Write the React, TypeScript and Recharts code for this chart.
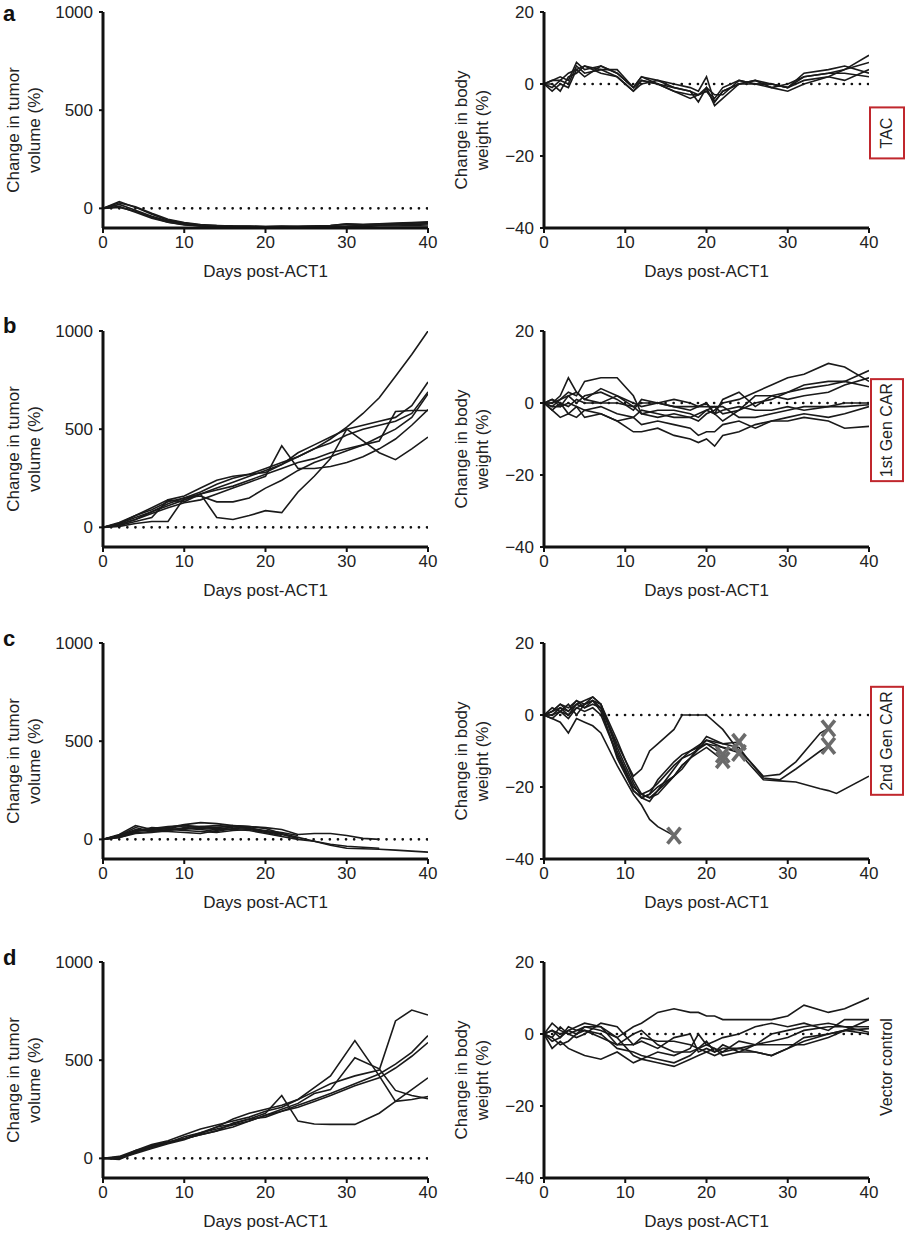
import React from 'react';
import { ComposedChart, Line, XAxis, YAxis, ReferenceLine, Scatter } from 'recharts';

const FONT = '"Liberation Sans", Arial, Helvetica, sans-serif';

// ---------- x grids (days post-ACT1) ----------
const TUMOR_DAYS = [0, 2, 4, 6, 8, 10, 12, 14, 16, 18, 20, 22, 24, 26, 28, 30, 32, 34, 36, 38, 40];
const D_TUMOR_DAYS = [0, 2, 4, 6, 8, 10, 12, 14, 16, 18, 20, 22, 24, 26, 28, 31, 34, 36, 38, 40];
const WEIGHT_DAYS = [0, 1, 2, 3, 4, 5, 7, 9, 11, 12, 14, 16, 18, 19, 20, 21, 22, 24, 26, 28, 30, 32, 35, 37, 40];
const C_WEIGHT_DAYS = [0, 1, 2, 3, 4, 5, 6, 7, 9, 11, 12, 13, 14, 16, 17, 18, 20, 22, 24, 25, 27, 29, 31, 34, 35, 36, 40];

// ---------- tick labels ----------
const DAY_TICKS = [0, 10, 20, 30, 40];
const TUMOR_TICKS = [0, 500, 1000];
const WEIGHT_TICKS = [-40, -20, 0, 20];

// ---------- a: TAC ----------
const A_T1 = [0, 35, 5, -30, -60, -75, -85, -88, -90, -90, -92, -90, -92, -90, -88, -78, -82, -80, -78, -75, -72];
const A_T2 = [0, 20, -10, -40, -65, -80, -88, -90, -92, -93, -94, -93, -92, -92, -90, -90, -88, -86, -84, -82, -80];
const A_T3 = [0, 10, -20, -50, -70, -85, -90, -92, -93, -94, -95, -94, -94, -93, -93, -92, -92, -90, -90, -88, -90];
const A_T4 = [0, 5, -15, -45, -70, -82, -89, -91, -93, -95, -95, -95, -95, -95, -95, -93, -88, -85, -82, -80, -78];
const A_T5 = [0, 28, 8, -25, -55, -72, -82, -87, -90, -91, -92, -92, -91, -90, -88, -80, -82, -78, -75, -72, -68];

const A_W1 = [0, -1, 1, 0, 5, 3, 4, 4, -1, 2, 1, 0, -1, -2, 2, -5, -2, 0, 1, 0, -1, 2, 3, 4, 8];
const A_W2 = [0, 1, 2, 1, 6, 4, 5, 3, -1, 1, 0, -1, -2, -3, -2, -4, -1, 1, 0, 0, -1, 1, 2, 4, 6];
const A_W3 = [0, 0, -2, 2, 3, 5, 3, 2, -2, 1, 0, -2, -3, -3, -2, -5, -2, 0, 1, -1, 0, 2, 3, 3, 2];
const A_W4 = [0, -2, 0, -1, 4, 2, 5, 3, -1, 2, 0, -2, -4, -3, -1, -3, -3, 1, 0, 0, -1, 3, 4, 5, 3];
const A_W5 = [0, 1, 1, 3, 4, 5, 4, 2, -2, 0, 1, -1, -2, -5, -1, -6, -4, 0, 0, -1, -2, 0, 2, 1, 4];

// ---------- b: 1st Gen CAR ----------
const B_T1 = [0, 20, 50, 80, 110, 140, 170, 200, 230, 260, 290, 320, 360, 400, 450, 510, 580, 660, 770, 880, 1000];
const B_T2 = [0, 15, 40, 70, 100, 125, 140, 170, 200, 230, 260, 415, 300, 300, 310, 330, 360, 400, 450, 520, 600];
const B_T3 = [0, 10, 30, 50, 140, 130, 170, 50, 40, 60, 85, 75, 180, 260, 350, 500, 440, 380, 345, 400, 460];
const B_T4 = [0, 20, 60, 100, 140, 160, 200, 240, 260, 270, 280, 320, 380, 420, 460, 500, 520, 540, 560, 620, 740];
const B_T5 = [0, 15, 40, 80, 120, 150, 180, 220, 250, 270, 300, 330, 360, 400, 430, 470, 500, 520, 540, 580, 690];
const B_T6 = [0, 5, 20, 30, 30, 150, 160, 130, 130, 150, 200, 240, 290, 330, 360, 390, 420, 460, 500, 560, 680];
const B_T7 = [0, 25, 60, 90, 130, 150, 170, 190, 210, 240, 270, 300, 330, 350, 380, 400, 420, 440, 590, 595, 595];

const B_W1 = [0, 1, -1, 2, 3, 1, 0, 2, -1, -3, -4, -3, -4, -5, -3, -2, 0, 1, 3, 5, 7, 8, 11, 10, 6];
const B_W2 = [0, -1, 1, 3, 2, 6, 7, 7, 2, -3, -2, -2, -3, -4, -2, -1, -3, -2, 0, 1, 3, 5, 6, 6, 9];
const B_W3 = [0, -2, -4, -3, -1, -4, -3, -5, -8, -8, -7, -9, -10, -11, -10, -12, -9, -8, -6, -5, -5, -4, -5, -7, -6.5];
const B_W4 = [0, -2, 0, -3, -4, -2, -3, -5, -4, -6, -5, -6, -7, -9, -8, -8, -6, -5, -7, -5, -4, -3, -4, -3, -1];
const B_W5 = [0, 0, 2, 7, 3, 1, 4, 2, 0, -1, 0, 1, 0, -1, 0, -3, 1, 3, -1, 2, 1, 2, 3, 5, 7];
const B_W6 = [0, 0, 1, 2, 0, 2, 3, 1, -2, 1, 0, -1, -2, -1, 0, -3, -5, -2, 2, 2, 3, 4, 5, 6, 4.5];
const B_W7 = [0, 1, 0, -1, 1, 0, 0, 0, -1, 0, 0, -1, -1, -1, -1, -1, -1, -4, -4, -3, -2, -1, -1, 0, 0];
const B_W8 = [0, -1, -1, 0, -1, -2, -1, -3, -4, -2, -3, -4, -4, -3, -2, -3, -2, -1, -2, -2, -1, -2, -1, -1, -0.5];

// ---------- c: 2nd Gen CAR ----------
const N = null;
const C_T1 = [0, 25, 70, 50, 60, 75, 85, 80, 70, 65, 60, 50, 25, 30, 30, 20, 5, 0, N, N, N];
const C_T2 = [0, 20, 50, 45, 55, 70, 65, 60, 70, 65, 55, 30, 10, -10, -30, -45, -48, -50, -55, -60, -65];
const C_T3 = [0, 15, 40, 50, 45, 55, 50, 40, 55, 60, 40, 25, 5, N, N, N, N, N, N, N, N];
const C_T4 = [0, 10, 35, 40, 50, 45, 40, 35, 45, 50, 35, 20, N, N, N, N, N, N, N, N, N];
const C_T5 = [0, 20, 60, 40, 40, 35, 30, 45, 65, 55, 40, 30, N, N, N, N, N, N, N, N, N];
const C_T6 = [0, 10, 30, 35, 45, 60, 55, 50, 50, 45, 30, 15, 0, -10, -25, -35, -40, -45, N, N, N];
const C_T7 = [0, 15, 45, 55, 65, 70, 60, 55, 60, N, N, N, N, N, N, N, N, N, N, N, N];
const C_T8 = [0, 20, 40, 60, 55, 50, 65, 70, 65, 55, 45, 35, 20, N, N, N, N, N, N, N, N];

const C_W1 = [0, 1, 2, 0, 3, 2, 4, 2, -8, -17, -15, -10, -8, -4, 0, 0, 0, -4, -10, -13, -18, -18.3, -18.6, -20.5, -21, -21.8, -17];
const C_W2 = [0, -1, -2, -5, -1, -2, -3, -5, -14, -22, -25, -29, -31, -33.5, N, N, N, N, N, N, N, N, N, N, N, N, N];
const C_W3 = [0, 2, 1, 3, 0, 3, 4, 3, -10, -20, -22, -21, -19, -14, -12, -11, -8, -11, N, N, N, N, N, N, N, N, N];
const C_W4 = [0, 1, 3, 1, 4, 2, 3, 2, -12, -21, -23, -22, -20, -17, -14, -12, -9, -12.5, N, N, N, N, N, N, N, N, N];
const C_W5 = [0, 0, 2, 1, 3, 4, 5, 3, -9, -19, -23, -22, -18, -13, -11, -10, -7, -8, -7.5, N, N, N, N, N, N, N, N];
const C_W6 = [0, -1, 1, -1, 2, 3, 4, 1, -11, -20, -22, -23, -21, -15, -12, -10, -8, -9, -10.5, N, N, N, N, N, N, N, N];
const C_W7 = [0, 1, 3, 2, 4, 3, 5, 3, -7, -18, -22, -23, -22, -17, -15, -12, -6, -8, -9, -12, -17, -16.5, -13, -5, -3.7, N, N];
const C_W8 = [0, 0, 1, 0, 2, 1, 2, 0, -11, -21, -23, -24, -21, -17, -14, -12, -7, -9, -10, -12, -17.5, -18, -15, -10, -8.6, N, N];

// death markers (X) in 2nd Gen CAR body weight
const X_DAYS = [16, 22, 22, 24, 24, 35, 35];
const X_VALS = [-33.5, -11, -12.5, -7.5, -10.5, -3.7, -8.6];

// ---------- d: Vector control ----------
const D_T1 = [0, -5, 30, 60, 80, 110, 130, 160, 200, 230, 250, 270, 300, 340, 380, 420, 450, 700, 755, 730];
const D_T2 = [0, 0, 40, 70, 90, 120, 150, 170, 190, 210, 240, 260, 300, 360, 420, 600, 420, 290, 300, 315];
const D_T3 = [0, 5, 35, 65, 85, 100, 120, 140, 160, 190, 220, 250, 280, 330, 350, 512, 456, 346, 320, 304];
const D_T4 = [0, 10, 40, 60, 80, 100, 120, 140, 180, 200, 230, 320, 190, 175, 173, 173, 230, 290, 350, 410];
const D_T5 = [0, 5, 30, 55, 80, 100, 130, 150, 170, 190, 220, 240, 270, 300, 330, 380, 430, 480, 540, 625];
const D_T6 = [0, 0, 25, 50, 75, 95, 125, 160, 175, 200, 210, 240, 260, 290, 320, 370, 410, 460, 520, 590];

const D_W1 = [0, -1, 2, 0, 1, 2, 1, -1, 2, 3, 6, 7, 6, 6, 5, 5, 4, 4, 4, 4, 5, 8, 6, 7, 10];
const D_W2 = [0, -4, -2, -4, -5, -6, -7, -5, -8, -7, -8, -9, -7, -6, -5, -4, -6, -5, -5, -6, -4, -2, 0, 1, 1.5];
const D_W3 = [0, 3, 1, 0, -1, 0, 3, 2, -3, -2, -4, -1, 0, -5, -4, -5, -3, -5, -3, -3, -3, -3, -1, 1, 4];
const D_W4 = [0, -2, -1, 1, 0, 2, 2, -1, -6, -7, -5, -6, -4, 0, -3, -4, -5, -2, -3, -2, -1, 1, 2, 2, 2];
const D_W5 = [0, 1, -1, 2, 1, 1, -1, -3, 0, 1, -3, -5, -5, -4, -2, -5, -4, -4, -3, 0, 1, 2, 3, 2, 0.5];
const D_W6 = [0, -1, -3, -2, 0, 1, 0, -4, -5, -6, -7, -8, -6, -4, -3, -2, -1, 0, 2, 3, 2, 3, 1, 4, 4];
const D_W7 = [0, 1, 0, 1, 2, 3, 2, -3, -3, -1, -2, -2, -3, -4, -5, -6, -5, -4, -5, -6, -4, -1, 0, 1, 0];

// ---------- labels ----------
const PANEL_LETTERS = ['a', 'b', 'c', 'd'];
const GROUP_LABELS = ['TAC', '1st Gen CAR', '2nd Gen CAR', 'Vector control'];
const GROUP_BOXED = [true, true, true, false];
const TUMOR_TITLE = ['Change in tumor', 'volume (%)'];
const WEIGHT_TITLE = ['Change in body', 'weight (%)'];
const X_TITLE = 'Days post-ACT1';

// ---------- layout ----------
const ROW_TOPS = [12, 331, 643, 962];
const LETTER_TOPS = [1, 313, 626, 945];
const SIDE_OFFSETS = [121, 99, 98, 105];
const SIDE_PAD = ['6px 9px', '5px 3px', '5px 3px', '0'];
const PLOT_H = 216;
const LEFT_X0 = 103;
const RIGHT_X0 = 544;
const PLOT_W = 325;
const Y_AXIS_W = 60;
const TOP_M = 10;
const RIGHT_M = 15;
const X_AXIS_H = 34;

function buildRows(days: number[], series: (number | null)[][]) {
  return days.map((d, i) => {
    const r: any = { day: d };
    series.forEach((s, j) => {
      r['s' + j] = s[i];
    });
    return r;
  });
}

const fmtTick = (v: number) => (v < 0 ? '\u2212' + Math.abs(v) : String(v));

const XShape = (p: any) => {
  const { cx, cy } = p;
  if (cx == null || cy == null) return null;
  const w = 6.5;
  const h = 8;
  return (
    <g stroke="#6b6b6b" strokeWidth={3.6}>
      <line x1={cx - w} y1={cy - h} x2={cx + w} y2={cy + h} />
      <line x1={cx - w} y1={cy + h} x2={cx + w} y2={cy - h} />
    </g>
  );
};

type PanelProps = {
  x0: number;
  top: number;
  days: number[];
  series: (number | null)[][];
  domain: [number, number];
  ticks: number[];
  marks?: { day: number; w: number }[];
};

function Panel({ x0, top, days, series, domain, ticks, marks }: PanelProps) {
  const rows = buildRows(days, series);
  const tickStyle = { fill: '#222', fontSize: 17, fontFamily: FONT };
  return (
    <div style={{ position: 'absolute', left: x0 - Y_AXIS_W, top: top - TOP_M }}>
      <ComposedChart
        width={Y_AXIS_W + PLOT_W + RIGHT_M}
        height={TOP_M + PLOT_H + X_AXIS_H}
        data={rows}
        margin={{ top: TOP_M, right: RIGHT_M, bottom: 0, left: 0 }}
      >
        <XAxis
          dataKey="day"
          type="number"
          domain={[0, 40]}
          ticks={DAY_TICKS}
          interval={0}
          height={X_AXIS_H}
          axisLine={{ stroke: '#111', strokeWidth: 3 }}
          tickLine={{ stroke: '#111', strokeWidth: 2 }}
          tickSize={5}
          tickMargin={3}
          tick={tickStyle}
          allowDataOverflow
        />
        <YAxis
          type="number"
          domain={domain}
          ticks={ticks}
          interval={0}
          width={Y_AXIS_W}
          axisLine={{ stroke: '#111', strokeWidth: 3 }}
          tickLine={{ stroke: '#111', strokeWidth: 2 }}
          tickSize={4}
          tickMargin={6}
          tick={tickStyle}
          tickFormatter={fmtTick}
          allowDataOverflow
        />
        <ReferenceLine
          y={0}
          stroke="#111"
          strokeWidth={2.6}
          strokeDasharray="0.1 8"
          strokeLinecap="round"
          ifOverflow="hidden"
        />
        {series.map((_, j) => (
          <Line
            key={j}
            dataKey={'s' + j}
            type="linear"
            stroke="#1a1a1a"
            strokeWidth={1.6}
            dot={false}
            activeDot={false}
            connectNulls={false}
            isAnimationActive={false}
          />
        ))}
        {marks ? (
          <Scatter data={marks} dataKey="w" shape={XShape} isAnimationActive={false} />
        ) : null}
      </ComposedChart>
    </div>
  );
}

function YTitle({ cx, cy, lines }: { cx: number; cy: number; lines: string[] }) {
  return (
    <div
      style={{
        position: 'absolute',
        left: cx,
        top: cy,
        transform: 'translate(-50%, -50%) rotate(-90deg)',
        whiteSpace: 'nowrap',
        textAlign: 'center',
        fontSize: 17,
        lineHeight: '21px',
        color: '#222',
        fontFamily: FONT,
      }}
    >
      {lines[0]}
      <br />
      {lines[1]}
    </div>
  );
}

function SideLabel({ cx, cy, text, boxed, pad }: { cx: number; cy: number; text: string; boxed: boolean; pad: string }) {
  return (
    <div
      style={{
        position: 'absolute',
        left: cx,
        top: cy,
        transform: 'translate(-50%, -50%) rotate(-90deg)',
        whiteSpace: 'nowrap',
        fontSize: 16,
        lineHeight: '20px',
        color: '#222',
        fontFamily: FONT,
        border: boxed ? '2px solid #c0272d' : 'none',
        padding: pad,
        background: '#fff',
      }}
    >
      {text}
    </div>
  );
}

const TUMOR_SETS = [
  { days: TUMOR_DAYS, series: [A_T1, A_T2, A_T3, A_T4, A_T5] },
  { days: TUMOR_DAYS, series: [B_T1, B_T2, B_T3, B_T4, B_T5, B_T6, B_T7] },
  { days: TUMOR_DAYS, series: [C_T1, C_T2, C_T3, C_T4, C_T5, C_T6, C_T7, C_T8] },
  { days: D_TUMOR_DAYS, series: [D_T1, D_T2, D_T3, D_T4, D_T5, D_T6] },
];

const WEIGHT_SETS = [
  { days: WEIGHT_DAYS, series: [A_W1, A_W2, A_W3, A_W4, A_W5] },
  { days: WEIGHT_DAYS, series: [B_W1, B_W2, B_W3, B_W4, B_W5, B_W6, B_W7, B_W8] },
  { days: C_WEIGHT_DAYS, series: [C_W1, C_W2, C_W3, C_W4, C_W5, C_W6, C_W7, C_W8] },
  { days: WEIGHT_DAYS, series: [D_W1, D_W2, D_W3, D_W4, D_W5, D_W6, D_W7] },
];

const X_MARKS = X_DAYS.map((d, i) => ({ day: d, w: X_VALS[i] }));

export default function App() {
  return (
    <div
      style={{
        position: 'absolute',
        left: 0,
        top: 0,
        width: 910,
        height: 1233,
        background: '#fff',
        fontFamily: FONT,
        overflow: 'hidden',
      }}
    >
      {ROW_TOPS.map((top, r) => (
        <React.Fragment key={r}>
          <div
            style={{
              position: 'absolute',
              left: 3,
              top: LETTER_TOPS[r],
              fontSize: 22,
              lineHeight: '26px',
              fontWeight: 'bold',
              color: '#111',
              fontFamily: FONT,
            }}
          >
            {PANEL_LETTERS[r]}
          </div>
          <Panel
            x0={LEFT_X0}
            top={top}
            days={TUMOR_SETS[r].days}
            series={TUMOR_SETS[r].series}
            domain={[-100, 1000]}
            ticks={TUMOR_TICKS}
          />
          <Panel
            x0={RIGHT_X0}
            top={top}
            days={WEIGHT_SETS[r].days}
            series={WEIGHT_SETS[r].series}
            domain={[-40, 20]}
            ticks={WEIGHT_TICKS}
            marks={r === 2 ? X_MARKS : undefined}
          />
          <YTitle cx={24} cy={top + 118} lines={TUMOR_TITLE} />
          <YTitle cx={472} cy={top + 118} lines={WEIGHT_TITLE} />
          <div
            style={{
              position: 'absolute',
              left: LEFT_X0,
              width: PLOT_W,
              top: top + 250,
              textAlign: 'center',
              fontSize: 17,
              lineHeight: '20px',
              color: '#222',
              fontFamily: FONT,
            }}
          >
            {X_TITLE}
          </div>
          <div
            style={{
              position: 'absolute',
              left: RIGHT_X0,
              width: PLOT_W,
              top: top + 250,
              textAlign: 'center',
              fontSize: 17,
              lineHeight: '20px',
              color: '#222',
              fontFamily: FONT,
            }}
          >
            {X_TITLE}
          </div>
          <SideLabel
            cx={887}
            cy={top + SIDE_OFFSETS[r]}
            text={GROUP_LABELS[r]}
            boxed={GROUP_BOXED[r]}
            pad={SIDE_PAD[r]}
          />
        </React.Fragment>
      ))}
    </div>
  );
}
